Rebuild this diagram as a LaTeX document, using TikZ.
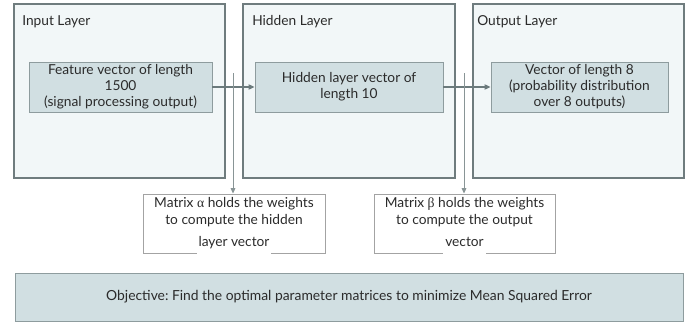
\documentclass[tikz,border=0pt]{standalone}
\usepackage{fontspec}
\setmainfont{Lato}
\newfontfamily\grk{Liberation Serif}
\usetikzlibrary{arrows.meta}
\frenchspacing
\newlength\pxl
\setlength\pxl{0.75pt}
\definecolor{layfill}{HTML}{F2F7F8}
\definecolor{laydraw}{HTML}{6F7C7E}
\definecolor{innfill}{HTML}{D1DFE2}
\definecolor{inndraw}{HTML}{8E9C9E}
\definecolor{notedraw}{HTML}{A3A3A3}
\definecolor{linkcol}{HTML}{6B7A7C}
\definecolor{txt}{HTML}{2B2B2B}
\tikzset{
  layerbox/.style={draw=laydraw, fill=layfill, line width=0.9pt, inner sep=0pt,
    minimum width=#1\pxl, minimum height=174\pxl},
  title/.style={anchor=west, inner sep=0pt, font=\fontsize{10.3pt}{12pt}\selectfont, text=txt},
  vecbox/.style={draw=inndraw, fill=innfill, line width=0.7pt, inner sep=0pt,
    minimum width=#1\pxl, minimum height=50\pxl, align=center,
    font=\fontsize{10.3pt}{12pt}\selectfont, text=txt},
  notebox/.style={draw=notedraw, fill=white, line width=0.7pt, inner sep=0pt,
    minimum width=#1\pxl, minimum height=59\pxl},
  notetext/.style={anchor=north, inner sep=0pt, align=center,
    font=\fontsize{10.3pt}{12.75pt}\selectfont, text=txt},
  goalbox/.style={draw=inndraw, fill=innfill, line width=0.7pt, inner sep=0pt,
    minimum width=668\pxl, minimum height=48\pxl, font=\fontsize{10.4pt}{12pt}\selectfont, text=txt},
  link/.style={draw=linkcol, line width=0.8pt, -{Triangle[length=4.5pt,width=4pt]}},
  stem/.style={draw=linkcol!80, line width=0.6pt, -{Triangle[length=4pt,width=3.5pt]}},
}
% last line of a note: white backing that breaks the frame below it
\newcommand\lastline[1]{{\setlength\fboxsep{1.5pt}\colorbox{white}{\rule[-11\pxl]{0pt}{0pt}#1}}}
\begin{document}
\begin{tikzpicture}[x=0.75pt, y=-0.75pt]
  \useasboundingbox (0,0) rectangle (686,322);

  % layer panels
  \node[layerbox=211] (inlayer)  at (119.5,91) {};
  \node[layerbox=212] (hidlayer) at (349,91)   {};
  \node[layerbox=211] (outlayer) at (578.5,91) {};
  \node[title] (intitle)  at (22,22)  {Input Layer};
  \node[title] (hidtitle) at (252,22) {Hidden Layer};
  \node[title] (outtitle) at (477,22) {Output Layer};

  % vectors
  \node[vecbox=183] (feat) at (120.5,87) {Feature vector of length\\1500\\(signal processing output)};
  \node[vecbox=188] (hid)  at (349,87)   {Hidden layer vector of\\length 10};
  \node[vecbox=177] (out)  at (579.5,87) {Vector of length 8\\(probability distribution\\over 8 outputs)};

  % weight notes
  \node[notebox=182] (alphabox) at (234,223.5) {};
  \node[notebox=181] (betabox)  at (464.5,223.5) {};
  \node[notetext] (alphatext) at (234,197) {Matrix {\grk α} holds the weights\\to compute the hidden\\[3.5pt]\lastline{layer vector}};
  \node[notetext] (betatext) at (464.5,197) {Matrix {\grk β} holds the weights\\to compute the output\\[3.5pt]\lastline{vector}};

  % objective
  \node[goalbox] (goal) at (349,297) {Objective: Find the optimal parameter matrices to minimize Mean Squared Error};

  % connectors
  \draw[link] (feat.east) -- (hid.west);
  \draw[link] (hid.east) -- (out.west);
  \coordinate (alphatop) at (233,73);
  \coordinate (betatop)  at (464,73);
  \draw[stem] (alphatop) -- (alphatop |- alphabox.north);
  \draw[stem] (betatop) -- (betatop |- betabox.north);
\end{tikzpicture}
\end{document}
